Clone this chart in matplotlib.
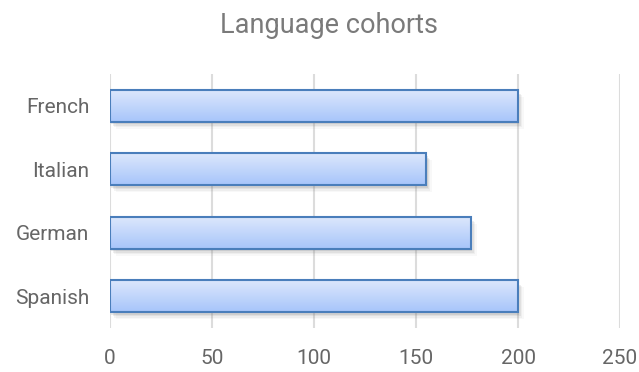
import matplotlib
matplotlib.use("Agg")
import matplotlib.pyplot as plt
import matplotlib.patheffects as pe
import numpy as np
from matplotlib.colors import LinearSegmentedColormap

languages = ["French", "Italian", "German", "Spanish"]
cohorts = [200, 155, 177, 200]
x_ticks = [0, 50, 100, 150, 200, 250]

plt.rcParams['font.family'] = ['Roboto', 'DejaVu Sans']

fig = plt.figure(figsize=(6.39, 3.72), dpi=100)
ax = fig.add_axes([110 / 639, 1 - 328 / 372, 510 / 639, 254 / 372])

pos = np.arange(len(languages))
bars = ax.barh(pos, cohorts, height=0.5, facecolor="none",
               edgecolor="#4a7ebb", linewidth=1.5, zorder=3)

# vertical gradient inside each bar, with a soft drop shadow underneath
grad = LinearSegmentedColormap.from_list("bar", ["#dce7fc", "#a7c5fa"])
gradient = np.linspace(0, 1, 64).reshape(-1, 1)
soft_shadow = [pe.SimplePatchShadow(offset=(o, -o - 1), shadow_rgbFace="#7f7f7f", alpha=a)
               for o, a in [(1, 0.16), (2, 0.12), (3, 0.08), (4, 0.05)]]
for b in bars:
    x0, y0 = b.get_x(), b.get_y()
    w, h = b.get_width(), b.get_height()
    im = ax.imshow(gradient, cmap=grad, aspect="auto", origin="upper",
                   extent=[x0, x0 + w, y0 + h, y0], zorder=2)
    im.set_clip_path(b)
    shadow = plt.Rectangle((x0, y0), w, h, facecolor="white", edgecolor="none",
                           alpha=0.0, zorder=1)
    ax.add_patch(shadow)
    shadow.set_path_effects(soft_shadow)

ax.set_xlim(0, 250)
ax.set_ylim(3.5, -0.5)
ax.set_yticks(pos)
ax.set_yticklabels(languages)
ax.set_xticks(x_ticks)
ax.grid(axis="x", color="#dcdcdc", linewidth=1.5, zorder=0)
ax.set_axisbelow(True)
for s in ax.spines.values():
    s.set_visible(False)
ax.tick_params(axis="both", length=0, labelsize=15, labelcolor="#666666")
ax.tick_params(axis="x", pad=15)
ax.tick_params(axis="y", pad=15)

fig.suptitle("Language cohorts", x=0.515, y=0.968, fontsize=19.5, color="#7a7a7a")

fig.savefig("out.png", dpi=100)
